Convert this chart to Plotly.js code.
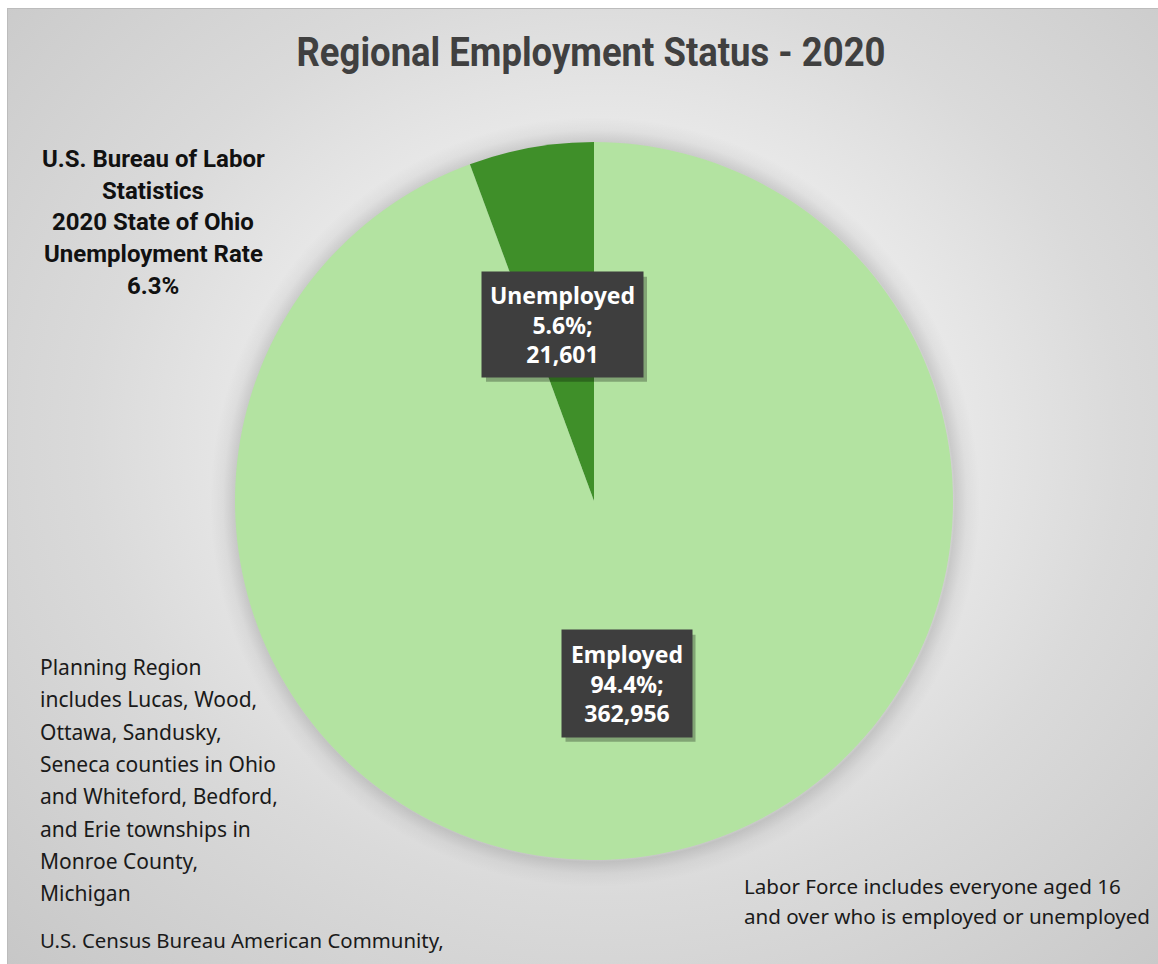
<!DOCTYPE html>
<html>
<head>
<meta charset="utf-8">
<script src="https://cdn.plot.ly/plotly-3.0.1.min.js"></script>
<style>
  html, body { margin: 0; padding: 0; background: #ffffff; width: 1158px; height: 964px; overflow: hidden; }
  #frame {
    position: absolute; left: 7px; top: 8px; width: 1151px; height: 956px;
    border-left: 1px solid #bcbcbc; border-top: 1px solid #bcbcbc; box-sizing: border-box;
    background:
      radial-gradient(circle at 587px 493px, rgba(0,0,0,0) 352px, rgba(0,0,0,0.13) 360px, rgba(0,0,0,0.04) 372px, rgba(0,0,0,0) 385px),
      radial-gradient(ellipse 75% 80% at 52% 45%, #ffffff 0%, #f3f3f3 25%, #dadada 60%, #c6c6c6 100%);
  }
  #chart { position: absolute; left: 0; top: 0; width: 1158px; height: 964px; }
</style>
</head>
<body>
<div id="frame"></div>
<div id="chart"></div>
<script>
// ---- data ----
const categories = ["Employed", "Unemployed"];
const values = [362956, 21601];
const sliceColors = ["#b3e3a1", "#3f8f29"];
const titleText = "Regional Employment Status - 2020";
const blsNote = ["U.S. Bureau of Labor", "Statistics", "2020 State of Ohio", "Unemployment Rate", "6.3%"];
const regionNote = ["Planning Region", "includes Lucas, Wood,", "Ottawa, Sandusky,", "Seneca counties in Ohio",
  "and Whiteford, Bedford,", "and Erie townships in", "Monroe County,", "Michigan"];
const sourceNote = "U.S. Census Bureau American Community,";
const laborNote = ["Labor Force includes everyone aged 16", "and over who is employed or unemployed"];

// ---- layout geometry ----
const W = 1158, H = 964;
const pieCx = 594, pieCy = 501, pieR = 359;
const labelRadiusFrac = [0.516, 0.5];
const labelBox = [[130, 107], [161, 105]];

const total = values.reduce((a, b) => a + b, 0);
const fmt = n => n.toLocaleString("en-US");
const px2x = p => p / W;
const py2y = p => 1 - p / H;

// label boxes at mid angle of each slice (clockwise from 12 o'clock)
const labelAnns = [];
const shadowShapes = [];
let cum = 0;
values.forEach((v, i) => {
  const frac = v / total;
  const mid = (cum + frac / 2) * 2 * Math.PI;
  cum += frac;
  const d = pieR * labelRadiusFrac[i];
  const px = pieCx + Math.sin(mid) * d;
  const py = pieCy - Math.cos(mid) * d;
  const [bw, bh] = labelBox[i];
  const txt = "<b>" + categories[i] + "<br>" + (frac * 100).toFixed(1) + "%;<br>" + fmt(v) + "</b>";
  shadowShapes.push({
    type: "rect", xref: "paper", yref: "paper", layer: "above",
    x0: px2x(px - bw / 2 + 4), x1: px2x(px + bw / 2 + 4),
    y0: py2y(py + bh / 2 + 5), y1: py2y(py - bh / 2 + 5),
    fillcolor: "rgba(0,0,0,0.28)", line: { width: 0 }
  });
  labelAnns.push({
    xref: "paper", yref: "paper", x: px2x(px), y: py2y(py),
    xanchor: "center", yanchor: "middle", showarrow: false, text: txt,
    width: bw, height: bh, borderpad: 0, bgcolor: "#3e3e3e",
    font: { family: "Noto Sans, Roboto, sans-serif", size: 23, color: "#ffffff" },
    align: "center", valign: "middle"
  });
});

// text notes, one annotation per line
const noteAnns = [];
function addLines(lines, xPx, y0, dy, anchor, font, bold) {
  lines.forEach((t, k) => {
    noteAnns.push({
      xref: "paper", yref: "paper", x: px2x(xPx), y: py2y(y0 + k * dy),
      xanchor: anchor, yanchor: "middle", showarrow: false, align: anchor,
      text: bold ? "<b>" + t + "</b>" : t, font: font
    });
  });
}
const boldFont = { family: "Roboto, Noto Sans, sans-serif", size: 24, color: "#111111" };
const plainFont = { family: "Noto Sans, sans-serif", size: 21, color: "#1a1a1a" };
const laborFont = { family: "Noto Sans, sans-serif", size: 20.6, color: "#1a1a1a" };
addLines(blsNote, 153, 159, 31.7, "center", boldFont, true);
addLines(regionNote, 38, 667, 32.3, "left", plainFont, false);
addLines([sourceNote], 38, 940, 0, "left", { family: "Noto Sans, sans-serif", size: 20.4, color: "#1a1a1a" }, false);
addLines(laborNote, 742, 886, 30, "left", laborFont, false);

const trace = {
  type: "pie",
  labels: categories,
  values: values,
  sort: false,
  direction: "clockwise",
  rotation: 0,
  marker: { colors: sliceColors, line: { width: 0 } },
  textinfo: "none",
  hoverinfo: "label+value+percent",
  showlegend: false,
  domain: { x: [(pieCx - pieR) / W, (pieCx + pieR) / W], y: [1 - (pieCy + pieR) / H, 1 - (pieCy - pieR) / H] }
};

const layout = {
  width: W, height: H,
  margin: { l: 0, r: 0, t: 0, b: 0 },
  paper_bgcolor: "rgba(0,0,0,0)",
  plot_bgcolor: "rgba(0,0,0,0)",
  title: {
    text: "<b>" + titleText + "</b>",
    x: 591 / W, xanchor: "center", xref: "paper",
    y: 1 - 52 / H, yanchor: "middle", yref: "container",
    font: { family: "Roboto, sans-serif", size: 41, color: "#404040" }
  },
  shapes: shadowShapes,
  annotations: labelAnns.concat(noteAnns),
  showlegend: false
};

Plotly.newPlot("chart", [trace], layout, { displayModeBar: false, staticPlot: true }).then(gd => {
  // condense the title to the reference's narrow look
  const t = gd.querySelector(".gtitle");
  if (t) {
    t.setAttribute("textLength", "589");
    t.setAttribute("lengthAdjust", "spacingAndGlyphs");
  }
});
</script>
</body>
</html>
